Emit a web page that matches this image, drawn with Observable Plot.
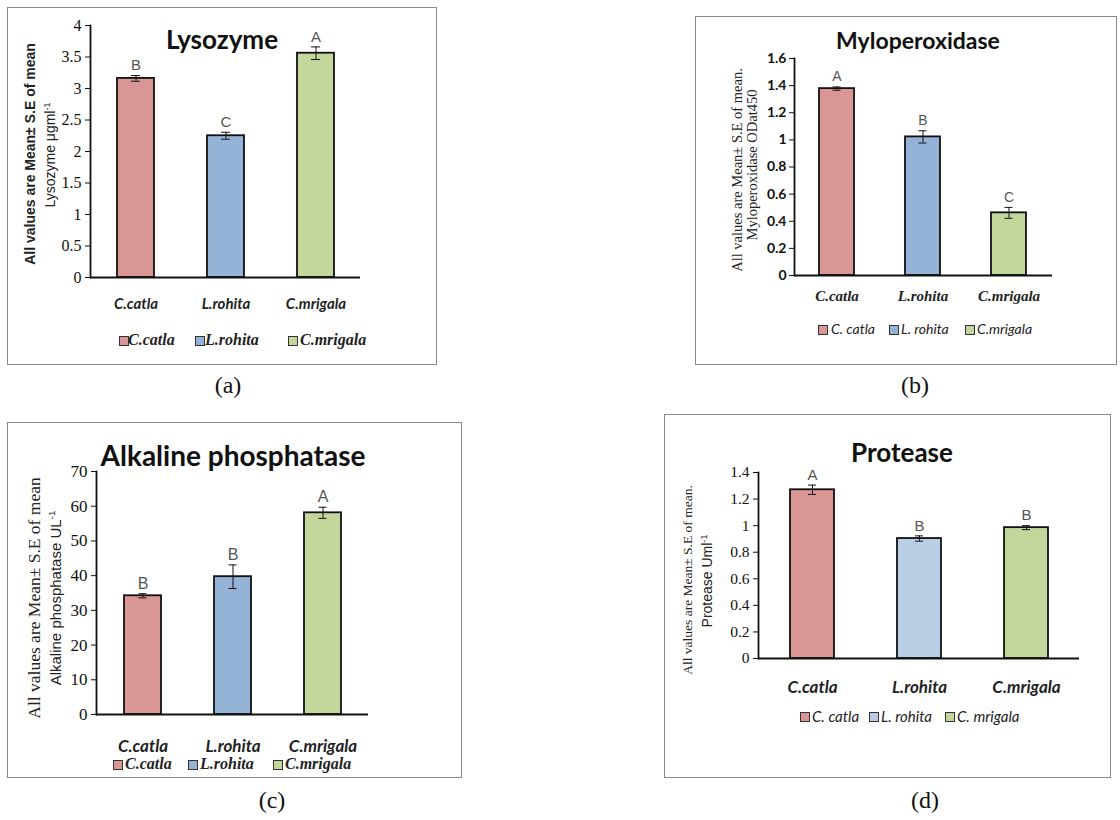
<!DOCTYPE html>
<html>
<head>
<meta charset="utf-8">
<script src="https://cdn.jsdelivr.net/npm/d3@7"></script>
<script src="https://cdn.jsdelivr.net/npm/@observablehq/plot@0.6"></script>
<style>
  html, body { margin: 0; padding: 0; background: #fff; }
  #root { position: relative; width: 1120px; height: 820px; overflow: hidden; background: #fff; }
  .abs { position: absolute; white-space: nowrap; line-height: 1; }
  .frame { position: absolute; box-sizing: border-box; border: 1.5px solid #8a8a8a; }
  sup { font-size: 0.65em; vertical-align: 0.55em; line-height: 0; }
</style>
</head>
<body>
<div id="root"></div>
<script>
// ---------------- data ----------------
const species = ["C.catla", "L.rohita", "C.mrigala"];
const barColors = ["#D99694", "#95B3D7", "#C3D69B"];
const proteaseColors = ["#D99694", "#B9CDE5", "#C3D69B"];

const lysozymeMean = [3.16, 2.25, 3.56];
const lysozymeSE = [0.045, 0.055, 0.1];
const lysozymeLetters = ["B", "C", "A"];
const lysozymeTicks = [0, 0.5, 1, 1.5, 2, 2.5, 3, 3.5, 4];

const mpoMean = [1.378, 1.022, 0.462];
const mpoSE = [0.012, 0.045, 0.04];
const mpoLetters = ["A", "B", "C"];
const mpoTicks = [0, 0.2, 0.4, 0.6, 0.8, 1, 1.2, 1.4, 1.6];

const alpMean = [34.2, 39.7, 58.1];
const alpSE = [0.6, 3.4, 1.6];
const alpLetters = ["B", "B", "A"];
const alpTicks = [0, 10, 20, 30, 40, 50, 60, 70];

const proteaseMean = [1.27, 0.903, 0.985];
const proteaseSE = [0.035, 0.02, 0.015];
const proteaseLetters = ["A", "B", "B"];
const proteaseTicks = [0, 0.2, 0.4, 0.6, 0.8, 1, 1.2, 1.4];

const legendLabelsA = ["C.catla", "L.rohita", "C.mrigala"];
const legendLabelsB = ["C. catla", "L. rohita", "C.mrigala"];
const legendLabelsC = ["C.catla", "L.rohita", "C.mrigala"];
const legendLabelsD = ["C. catla", "L. rohita", "C. mrigala"];

// ---------------- helpers ----------------
const root = document.getElementById("root");
const SERIF = "'Liberation Serif', 'Times New Roman', serif";
const SANS = "Lato, 'Liberation Sans', Arial, sans-serif";
const ARIAL = "'Liberation Sans', Arial, sans-serif";

function addText(html, x, y, style, anchor = "center", rotate = 0) {
  const d = document.createElement("div");
  d.className = "abs";
  d.innerHTML = html;
  d.style.left = x + "px";
  d.style.top = y + "px";
  const tx = anchor === "center" ? "-50%" : "0";
  d.style.transform = `translate(${tx}, -50%)`;
  if (rotate) { d.style.transform = `translate(-50%, -50%) rotate(${rotate}deg)`; }
  Object.assign(d.style, style);
  root.appendChild(d);
  return d;
}

function addFrame(box) {
  const d = document.createElement("div");
  d.className = "frame";
  d.style.left = box[0] + "px";
  d.style.top = box[1] + "px";
  d.style.width = (box[2] - box[0]) + "px";
  d.style.height = (box[3] - box[1]) + "px";
  root.appendChild(d);
}

function addLegend(y, squaresX, textsX, labels, colors, font) {
  labels.forEach((lab, i) => {
    const s = document.createElement("div");
    s.style.position = "absolute";
    s.style.left = squaresX[i] + "px";
    s.style.top = (y - 4.5) + "px";
    s.style.width = "8px";
    s.style.height = "8px";
    s.style.background = colors[i];
    s.style.border = "1px solid #333";
    root.appendChild(s);
    addText(lab, textsX[i], y, font, "left");
  });
}

function panel(cfg) {
  const [x0, y0, x1, y1] = cfg.box;
  const [pl, pr, pt, pb] = cfg.plotArea;
  addFrame(cfg.box);
  const data = species.map((s, i) => ({
    species: s, value: cfg.mean[i], se: cfg.se[i], letter: cfg.letters[i]
  }));
  const svg = Plot.plot({
    width: x1 - x0,
    height: y1 - y0,
    marginLeft: pl - x0,
    marginRight: x1 - pr,
    marginTop: pt - y0,
    marginBottom: y1 - pb,
    style: { background: "transparent", overflow: "visible" },
    x: { domain: species, paddingInner: 0.59, paddingOuter: 0.295, label: null, axis: null },
    y: { domain: [0, cfg.ticks[cfg.ticks.length - 1]], label: null, axis: null },
    color: { domain: species, range: cfg.colors },
    marks: [
      Plot.barY(data, { x: "species", y: "value", fill: "species", stroke: "#111", strokeWidth: 1.8 }),
      Plot.ruleX(data, { x: "species", y1: d => d.value - d.se, y2: d => d.value + d.se, stroke: "#111", strokeWidth: 1 }),
      Plot.tickY(data, { x: "species", y: d => d.value - d.se, stroke: "#111", strokeWidth: 1, insetLeft: cfg.capInset, insetRight: cfg.capInset }),
      Plot.tickY(data, { x: "species", y: d => d.value + d.se, stroke: "#111", strokeWidth: 1, insetLeft: cfg.capInset, insetRight: cfg.capInset }),
      Plot.text(data, { x: "species", y: d => d.value + d.se, text: "letter", dy: -10, fill: "#555", fontSize: cfg.letterSize, fontFamily: ARIAL }),
      Plot.axisY({ ticks: cfg.ticks, tickFormat: d => String(d), tickSize: 5, tickPadding: cfg.yTickPadding, label: null, stroke: "#111",
        fontFamily: cfg.yFont, fontSize: cfg.yFontSize, fontWeight: cfg.yFontWeight, fill: "#111" }),
      Plot.axisX({ tickSize: 0, tickPadding: cfg.xTickPadding, label: null,
        fontFamily: cfg.xFont, fontSize: cfg.xFontSize, fontWeight: "bold", fontStyle: "italic", fill: "#222" }),
      Plot.frame({ anchor: "left", stroke: "#111", strokeWidth: 1.8 }),
      Plot.ruleY([0], { stroke: "#111", strokeWidth: 1.8 })
    ]
  });
  svg.style.position = "absolute";
  svg.style.left = x0 + "px";
  svg.style.top = y0 + "px";
  root.appendChild(svg);
}

// ---------------- panel (a) Lysozyme ----------------
panel({
  box: [7, 7, 437, 365], plotArea: [90, 360, 25, 277],
  mean: lysozymeMean, se: lysozymeSE, letters: lysozymeLetters, ticks: lysozymeTicks,
  colors: barColors, capInset: 14, letterSize: 15,
  yFont: SERIF, yFontSize: 16, yFontWeight: "normal", yTickPadding: 4,
  xFont: SANS, xFontSize: 15, xTickPadding: 21
});
addText("Lysozyme", 222, 39, { fontFamily: SANS, fontWeight: "bold", fontSize: "26px", color: "#111" });
addText("All values are Mean± S.E of mean", 30, 154, { fontFamily: ARIAL, fontSize: "14px", fontWeight: "bold", color: "#222" }, "center", -90);
addText("Lysozyme μgml<sup>-1</sup>", 50, 155, { fontFamily: ARIAL, fontSize: "14px", color: "#222" }, "center", -90);
addLegend(340, [119, 195, 288], [128, 205, 300], legendLabelsA, barColors,
  { fontFamily: SERIF, fontStyle: "italic", fontWeight: "bold", fontSize: "16px", color: "#222" });
addText("(a)", 228, 385, { fontFamily: SERIF, fontSize: "24px", color: "#111" });

// ---------------- panel (b) Myloperoxidase ----------------
panel({
  box: [695, 16, 1117, 365], plotArea: [794, 1052, 58, 275],
  mean: mpoMean, se: mpoSE, letters: mpoLetters, ticks: mpoTicks,
  colors: barColors, capInset: 13.5, letterSize: 14,
  yFont: SANS, yFontSize: 14, yFontWeight: "bold", yTickPadding: 3,
  xFont: SERIF, xFontSize: 15, xTickPadding: 15
});
addText("Myloperoxidase", 918, 40, { fontFamily: SANS, fontWeight: "bold", fontSize: "23px", color: "#111" });
addText("All values are Mean± S.E of mean.", 737, 170, { fontFamily: SERIF, fontSize: "14.5px", color: "#222" }, "center", -90);
addText("Myloperoxidase ODat450", 752, 165, { fontFamily: SERIF, fontSize: "14.5px", color: "#222" }, "center", -90);
addLegend(329, [818, 889, 965], [831, 901, 977], legendLabelsB, barColors,
  { fontFamily: SANS, fontStyle: "italic", fontSize: "14px", color: "#222" });
addText("(b)", 915, 385, { fontFamily: SERIF, fontSize: "24px", color: "#111" });

// ---------------- panel (c) Alkaline phosphatase ----------------
panel({
  box: [7, 422, 462, 778], plotArea: [96, 368, 471, 714],
  mean: alpMean, se: alpSE, letters: alpLetters, ticks: alpTicks,
  colors: barColors, capInset: 14.5, letterSize: 16,
  yFont: SERIF, yFontSize: 17, yFontWeight: "normal", yTickPadding: 4,
  xFont: SANS, xFontSize: 17, xTickPadding: 25
});
addText("Alkaline phosphatase", 233, 455, { fontFamily: SANS, fontWeight: "bold", fontSize: "28px", color: "#111" });
addText("All values are Mean± S.E of mean", 35, 598, { fontFamily: SERIF, fontSize: "17.5px", color: "#222" }, "center", -90);
addText("Alkaline phosphatase UL<sup>-1</sup>", 55, 598, { fontFamily: ARIAL, fontSize: "15px", color: "#222" }, "center", -90);
addLegend(764, [113, 188, 273], [125, 200, 285], legendLabelsC, barColors,
  { fontFamily: SERIF, fontStyle: "italic", fontWeight: "bold", fontSize: "16px", color: "#222" });
addText("(c)", 272, 800, { fontFamily: SERIF, fontSize: "24px", color: "#111" });

// ---------------- panel (d) Protease ----------------
panel({
  box: [664, 414, 1111, 778], plotArea: [758, 1079, 472, 658],
  mean: proteaseMean, se: proteaseSE, letters: proteaseLetters, ticks: proteaseTicks,
  colors: proteaseColors, capInset: 18, letterSize: 15,
  yFont: SERIF, yFontSize: 15.5, yFontWeight: "normal", yTickPadding: 4,
  xFont: SANS, xFontSize: 17, xTickPadding: 22
});
addText("Protease", 902, 452, { fontFamily: SANS, fontWeight: "bold", fontSize: "26px", color: "#111" });
addText("All values are Mean± S.E of mean.", 688, 580, { fontFamily: SERIF, fontSize: "13.5px", color: "#222" }, "center", -90);
addText("Protease Uml<sup>-1</sup>", 707, 581, { fontFamily: ARIAL, fontSize: "14px", color: "#222" }, "center", -90);
addLegend(716, [800, 869, 945], [812, 881, 957], legendLabelsD, proteaseColors,
  { fontFamily: SANS, fontStyle: "italic", fontSize: "15px", color: "#222" });
addText("(d)", 925, 800, { fontFamily: SERIF, fontSize: "24px", color: "#111" });
</script>
</body>
</html>
